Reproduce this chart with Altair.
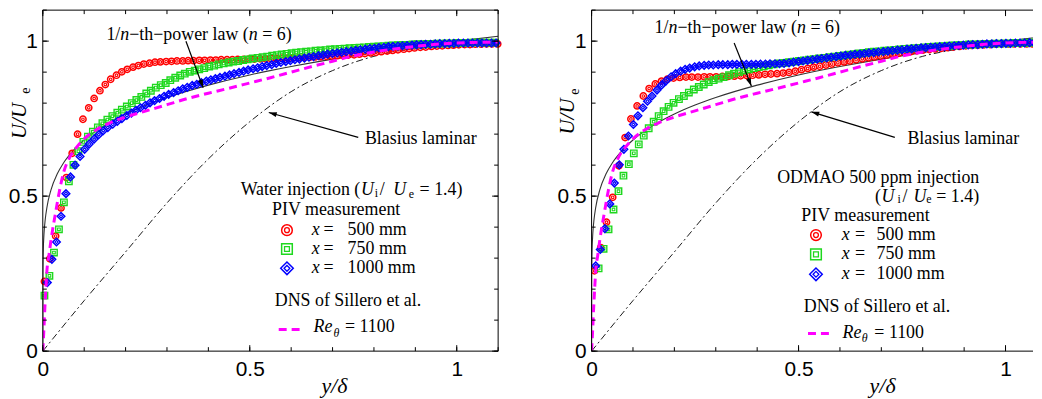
import altair as alt
import pandas as pd

# ---------------- data ----------------
# power law 1/n (n=6)
PL_X = [0, 0.0002, 0.001, 0.003, 0.006, 0.01, 0.02, 0.035, 0.05, 0.075, 0.1, 0.15, 0.2, 0.25, 0.3,
        0.4, 0.5, 0.6, 0.7, 0.8, 0.9, 1.0, 1.1]
PL_Y = [0, 0.242, 0.316, 0.380, 0.426, 0.464, 0.521, 0.572, 0.607, 0.649, 0.681, 0.729, 0.765, 0.794, 0.818,
        0.858, 0.891, 0.918, 0.942, 0.963, 0.983, 1.0, 1.016]
# Blasius laminar
BL_X = [0, 0.1, 0.2, 0.3, 0.4, 0.5, 0.6, 0.7, 0.8, 0.9, 1.0, 1.1]
BL_Y = [0, 0.163, 0.32, 0.478, 0.62, 0.74, 0.837, 0.905, 0.951, 0.977, 0.99, 0.996]
# DNS Sillero et al. Re_theta = 1100
DNS_X = [0, 0.003, 0.005, 0.007, 0.01, 0.015, 0.02, 0.03, 0.04, 0.05, 0.065, 0.08, 0.1, 0.13, 0.16, 0.2,
         0.25, 0.3, 0.35, 0.4, 0.45, 0.5, 0.55, 0.6, 0.65, 0.7, 0.75, 0.8, 0.85, 0.9, 0.95, 1.0, 1.05, 1.1]
DNS_Y = [0, 0.08, 0.14, 0.19, 0.26, 0.31, 0.36, 0.44, 0.515, 0.575, 0.625, 0.655, 0.685, 0.715, 0.735, 0.755,
         0.775, 0.795, 0.815, 0.832, 0.848, 0.865, 0.882, 0.900, 0.918, 0.935, 0.952, 0.965, 0.975, 0.983, 0.99,
         0.994, 0.996, 0.997]

# ---- Water injection panel ----
W_RED_X = [0.004, 0.017, 0.031, 0.044, 0.057, 0.071, 0.084, 0.097, 0.111, 0.124, 0.138, 0.151, 0.164, 0.178,
           0.191, 0.204, 0.218, 0.231, 0.244, 0.258, 0.271, 0.284, 0.298, 0.311, 0.324, 0.338, 0.351, 0.364,
           0.378, 0.391, 0.405, 0.418, 0.431, 0.445, 0.458, 0.471, 0.485, 0.498, 0.511, 0.525, 0.538, 0.551,
           0.565, 0.578, 0.591, 0.605, 0.618, 0.631, 0.645, 0.658, 0.671, 0.685, 0.698, 0.712, 0.725, 0.738,
           0.752, 0.765, 0.778, 0.792, 0.805, 0.818, 0.832, 0.845, 0.858, 0.872, 0.885, 0.898, 0.912, 0.925,
           0.939, 0.952, 0.965, 0.979, 0.992, 1.005, 1.019, 1.032, 1.045, 1.059, 1.072, 1.085, 1.099]
W_RED_Y = [0.225, 0.298, 0.371, 0.462, 0.560, 0.638, 0.700, 0.748, 0.785, 0.815, 0.840, 0.860, 0.877, 0.890,
           0.901, 0.909, 0.916, 0.921, 0.926, 0.929, 0.932, 0.933, 0.934, 0.935, 0.936, 0.936, 0.937, 0.937,
           0.938, 0.938, 0.939, 0.939, 0.940, 0.940, 0.940, 0.941, 0.941, 0.942, 0.942, 0.943, 0.943, 0.944,
           0.944, 0.945, 0.945, 0.946, 0.946, 0.947, 0.948, 0.949, 0.950, 0.951, 0.952, 0.953, 0.954, 0.955,
           0.956, 0.958, 0.960, 0.962, 0.964, 0.966, 0.968, 0.970, 0.972, 0.974, 0.976, 0.978, 0.980, 0.981,
           0.983, 0.984, 0.985, 0.986, 0.987, 0.988, 0.989, 0.989, 0.990, 0.990, 0.991, 0.991, 0.991]
W_GRN_X = [0.004, 0.016, 0.027, 0.039, 0.051, 0.063, 0.074, 0.086, 0.098, 0.109,
           0.121, 0.133, 0.144, 0.156, 0.168, 0.180, 0.191, 0.203, 0.215, 0.226,
           0.238, 0.250, 0.261, 0.273, 0.285, 0.297, 0.308, 0.320, 0.332, 0.343,
           0.355, 0.367, 0.378, 0.390, 0.402, 0.414, 0.425, 0.437, 0.449, 0.460,
           0.472, 0.484, 0.495, 0.507, 0.519, 0.531, 0.542, 0.554, 0.566, 0.577,
           0.589, 0.601, 0.612, 0.624, 0.636, 0.648, 0.659, 0.671, 0.683, 0.694,
           0.706, 0.718, 0.729, 0.741, 0.753, 0.765, 0.776, 0.788, 0.800, 0.811,
           0.823, 0.835, 0.846, 0.858, 0.870, 0.882, 0.893, 0.905, 0.917, 0.928,
           0.940, 0.952, 0.963, 0.975, 0.987, 0.999, 1.010, 1.022, 1.034, 1.045,
           1.057, 1.069, 1.080, 1.092]
W_GRN_Y = [0.179, 0.243, 0.318, 0.393, 0.480, 0.548, 0.601, 0.645, 0.675, 0.692,
           0.708, 0.722, 0.735, 0.747, 0.758, 0.769, 0.779, 0.789, 0.800, 0.810,
           0.820, 0.831, 0.840, 0.850, 0.858, 0.865, 0.874, 0.882, 0.889, 0.895,
           0.901, 0.905, 0.909, 0.913, 0.918, 0.921, 0.925, 0.928, 0.931, 0.934,
           0.936, 0.939, 0.941, 0.944, 0.946, 0.948, 0.950, 0.953, 0.955, 0.957,
           0.959, 0.961, 0.963, 0.964, 0.966, 0.967, 0.969, 0.970, 0.971, 0.973,
           0.974, 0.975, 0.976, 0.977, 0.978, 0.979, 0.980, 0.981, 0.982, 0.983,
           0.984, 0.985, 0.986, 0.987, 0.988, 0.988, 0.989, 0.990, 0.990, 0.991,
           0.991, 0.992, 0.992, 0.993, 0.993, 0.994, 0.994, 0.994, 0.995, 0.995,
           0.995, 0.995, 0.995, 0.995]
W_BLU_X = [0.011, 0.022, 0.033, 0.044, 0.056, 0.067, 0.078, 0.090, 0.101, 0.112,
           0.124, 0.135, 0.146, 0.157, 0.169, 0.180, 0.191, 0.203, 0.214, 0.225,
           0.236, 0.248, 0.259, 0.270, 0.282, 0.293, 0.304, 0.316, 0.327, 0.338,
           0.349, 0.361, 0.372, 0.383, 0.395, 0.406, 0.417, 0.428, 0.440, 0.451,
           0.462, 0.474, 0.485, 0.496, 0.508, 0.519, 0.530, 0.541, 0.553, 0.564,
           0.575, 0.587, 0.598, 0.609, 0.620, 0.632, 0.643, 0.654, 0.666, 0.677,
           0.688, 0.700, 0.711, 0.722, 0.733, 0.745, 0.756, 0.767, 0.779, 0.790,
           0.801, 0.812, 0.824, 0.835, 0.846, 0.858, 0.869, 0.880, 0.892, 0.903,
           0.914, 0.925, 0.937, 0.948, 0.959, 0.971, 0.982, 0.993, 1.004, 1.016,
           1.027, 1.038, 1.050, 1.061, 1.072, 1.084, 1.095]
W_BLU_Y = [0.221, 0.296, 0.352, 0.435, 0.508, 0.562, 0.600, 0.628, 0.651, 0.668,
           0.684, 0.698, 0.711, 0.721, 0.732, 0.741, 0.750, 0.760, 0.768, 0.777,
           0.785, 0.793, 0.801, 0.808, 0.815, 0.822, 0.828, 0.834, 0.840, 0.846,
           0.851, 0.857, 0.861, 0.866, 0.871, 0.875, 0.879, 0.883, 0.887, 0.891,
           0.895, 0.899, 0.903, 0.907, 0.911, 0.914, 0.918, 0.921, 0.924, 0.928,
           0.931, 0.934, 0.937, 0.940, 0.942, 0.945, 0.948, 0.950, 0.953, 0.955,
           0.958, 0.960, 0.962, 0.964, 0.966, 0.968, 0.970, 0.972, 0.974, 0.976,
           0.977, 0.979, 0.980, 0.982, 0.983, 0.984, 0.985, 0.986, 0.987, 0.988,
           0.989, 0.990, 0.990, 0.991, 0.992, 0.992, 0.993, 0.993, 0.994, 0.994,
           0.994, 0.994, 0.994, 0.994, 0.994, 0.994, 0.994]

# ---- ODMAO panel ----
O_RED_X = [0.007, 0.022, 0.036, 0.051, 0.066, 0.081, 0.095, 0.110, 0.125, 0.139,
           0.154, 0.169, 0.183, 0.198, 0.213, 0.228, 0.242, 0.257, 0.272, 0.286,
           0.301, 0.316, 0.330, 0.345, 0.360, 0.375, 0.389, 0.404, 0.419, 0.433,
           0.448, 0.463, 0.477, 0.492, 0.507, 0.522, 0.536, 0.551, 0.566, 0.580,
           0.595, 0.610, 0.624, 0.639, 0.654, 0.669, 0.683, 0.698, 0.713, 0.727,
           0.742, 0.757, 0.771, 0.786, 0.801, 0.816, 0.830, 0.845, 0.860, 0.874,
           0.889, 0.904, 0.918, 0.933, 0.948, 0.963, 0.977, 0.992, 1.007, 1.021,
           1.036, 1.051, 1.065, 1.080, 1.095]
O_RED_Y = [0.259, 0.334, 0.416, 0.496, 0.598, 0.689, 0.749, 0.791, 0.823, 0.847,
           0.862, 0.871, 0.877, 0.881, 0.883, 0.884, 0.884, 0.884, 0.885, 0.885,
           0.885, 0.886, 0.886, 0.887, 0.888, 0.889, 0.890, 0.891, 0.893, 0.894,
           0.895, 0.897, 0.899, 0.903, 0.908, 0.912, 0.916, 0.919, 0.923, 0.926,
           0.930, 0.933, 0.936, 0.940, 0.943, 0.946, 0.949, 0.952, 0.955, 0.958,
           0.961, 0.964, 0.966, 0.969, 0.971, 0.973, 0.975, 0.977, 0.979, 0.981,
           0.983, 0.985, 0.986, 0.987, 0.988, 0.989, 0.990, 0.991, 0.991, 0.991,
           0.991, 0.991, 0.991, 0.991, 0.991]
O_GRN_X = [0.017, 0.029, 0.041, 0.053, 0.065, 0.077, 0.090, 0.102, 0.114, 0.126,
           0.138, 0.150, 0.162, 0.174, 0.186, 0.198, 0.211, 0.223, 0.235, 0.247,
           0.259, 0.271, 0.283, 0.295, 0.307, 0.319, 0.332, 0.344, 0.356, 0.368,
           0.380, 0.392, 0.404, 0.416, 0.428, 0.440, 0.453, 0.465, 0.477, 0.489,
           0.501, 0.513, 0.525, 0.537, 0.549, 0.561, 0.574, 0.586, 0.598, 0.610,
           0.622, 0.634, 0.646, 0.658, 0.670, 0.682, 0.695, 0.707, 0.719, 0.731,
           0.743, 0.755, 0.767, 0.779, 0.791, 0.803, 0.816, 0.828, 0.840, 0.852,
           0.864, 0.876, 0.888, 0.900, 0.912, 0.924, 0.937, 0.949, 0.961, 0.973,
           0.985, 0.997, 1.009, 1.021, 1.033, 1.045, 1.058, 1.070, 1.082, 1.094]
O_GRN_Y = [0.267, 0.330, 0.393, 0.457, 0.516, 0.566, 0.603, 0.638, 0.667, 0.695,
           0.719, 0.740, 0.758, 0.774, 0.788, 0.801, 0.813, 0.823, 0.834, 0.844,
           0.852, 0.860, 0.868, 0.874, 0.879, 0.884, 0.890, 0.895, 0.900, 0.905,
           0.909, 0.913, 0.916, 0.919, 0.922, 0.925, 0.928, 0.930, 0.932, 0.934,
           0.936, 0.938, 0.940, 0.942, 0.944, 0.946, 0.948, 0.950, 0.952, 0.954,
           0.956, 0.958, 0.960, 0.962, 0.964, 0.966, 0.967, 0.969, 0.970, 0.972,
           0.973, 0.975, 0.976, 0.977, 0.978, 0.980, 0.981, 0.982, 0.983, 0.984,
           0.985, 0.986, 0.987, 0.988, 0.989, 0.989, 0.990, 0.991, 0.991, 0.992,
           0.992, 0.993, 0.993, 0.994, 0.994, 0.994, 0.995, 0.995, 0.995, 0.995]
O_BLU_X = [0.010, 0.021, 0.032, 0.044, 0.055, 0.067, 0.078, 0.089, 0.101, 0.112,
           0.124, 0.135, 0.146, 0.158, 0.169, 0.180, 0.192, 0.203, 0.215, 0.226,
           0.237, 0.249, 0.260, 0.272, 0.283, 0.294, 0.306, 0.317, 0.329, 0.340,
           0.351, 0.363, 0.374, 0.386, 0.397, 0.408, 0.420, 0.431, 0.443, 0.454,
           0.465, 0.477, 0.488, 0.500, 0.511, 0.522, 0.534, 0.545, 0.556, 0.568,
           0.579, 0.591, 0.602, 0.613, 0.625, 0.636, 0.648, 0.659, 0.670, 0.682,
           0.693, 0.705, 0.716, 0.727, 0.739, 0.750, 0.762, 0.773, 0.784, 0.796,
           0.807, 0.819, 0.830, 0.841, 0.853, 0.864, 0.876, 0.887, 0.898, 0.910,
           0.921, 0.933, 0.944, 0.955, 0.967, 0.978, 0.990, 1.001, 1.012, 1.024,
           1.035, 1.046, 1.058, 1.069, 1.081, 1.092]
O_BLU_Y = [0.275, 0.328, 0.395, 0.475, 0.542, 0.601, 0.651, 0.694, 0.731, 0.759,
           0.785, 0.806, 0.823, 0.842, 0.858, 0.872, 0.885, 0.895, 0.903, 0.909,
           0.913, 0.917, 0.920, 0.922, 0.923, 0.923, 0.924, 0.924, 0.924, 0.925,
           0.925, 0.925, 0.925, 0.925, 0.925, 0.926, 0.926, 0.927, 0.927, 0.927,
           0.928, 0.930, 0.932, 0.934, 0.936, 0.938, 0.940, 0.942, 0.944, 0.946,
           0.948, 0.950, 0.952, 0.954, 0.955, 0.957, 0.958, 0.960, 0.962, 0.963,
           0.965, 0.966, 0.968, 0.969, 0.971, 0.972, 0.974, 0.975, 0.977, 0.978,
           0.979, 0.980, 0.981, 0.982, 0.983, 0.984, 0.985, 0.986, 0.987, 0.988,
           0.989, 0.989, 0.990, 0.991, 0.991, 0.992, 0.992, 0.993, 0.993, 0.994,
           0.994, 0.994, 0.995, 0.995, 0.995, 0.995]

TICK_MINOR = [0, 0.1, 0.2, 0.3, 0.4, 0.5, 0.6, 0.7, 0.8, 0.9, 1.0, 1.1]
TICK_MAJOR = [0, 0.5, 1.0]
TICK_LABELS = [0, 0.5, 1]
LEGEND_X = ["500 mm", "750 mm", "1000 mm"]

# ---------------- styling ----------------
H = 343
SERIF = "Liberation Serif, Times New Roman, Times, serif"
SANS = "Liberation Sans, Arial, Helvetica, sans-serif"
RED, GRN, BLU, MAG = "#ff0000", "#1ed81e", "#0000ff", "#ff00ff"

ys = alt.Scale(domain=[0, 1.1], nice=False, zero=False)
one = pd.DataFrame({"v": [0]})

_common = dict(values=TICK_LABELS, format="~g", labelFont=SANS, labelFontSize=21,
               labelColor="black", ticks=False, domain=False, grid=False, labelFlush=False,
               labelOverlap=False)
AXX = alt.Axis(labelPadding=8, **_common)
AXY = alt.Axis(labelPadding=5.5, **_common)


def xy(xv, yv):
    pairs = list(zip(xv, yv))
    return pd.DataFrame({"x": [a for a, b in pairs], "y": [b for a, b in pairs]})


def txt(s, x, y, size=18, italic=False, angle=None, align="left"):
    kw = dict(text=s, font=SERIF, fontSize=size, fontStyle="italic" if italic else "normal",
              align=align, baseline="middle", color="black")
    if angle is not None:
        kw["angle"] = angle
    return alt.Chart(one).mark_text(**kw).encode(x=alt.value(x), y=alt.value(y))


def vrule(x1, y1, x2, y2, color="black", sw=1.0, dash=None):
    kw = dict(color=color, strokeWidth=sw)
    if dash:
        kw["strokeDash"] = dash
    return alt.Chart(one).mark_rule(**kw).encode(
        x=alt.value(x1), y=alt.value(y1), x2=alt.value(x2), y2=alt.value(y2))


def sym(shape, color, x, y, so, si, sw=1.5):
    out = []
    for s, w in ((so, sw), (si, 1.3)):
        out.append(alt.Chart(one).mark_point(shape=shape, filled=False, color=color, size=s,
                                             strokeWidth=w, opacity=1)
                   .encode(x=alt.value(x), y=alt.value(y)))
    return out


def arrow(x1, y1, x2, y2, ang):
    head = alt.Chart(one).mark_point(shape="M0,0L0.32,1L-0.32,1Z", filled=True, color="black",
                                     size=256, angle=ang, opacity=1, strokeWidth=0).encode(
        x=alt.value(x2), y=alt.value(y2))
    return [vrule(x1, y1, x2, y2, sw=1.2), head]


def panel(red, grn, blu, P, width, xmax, right_side, clip_pts):
    xs = alt.Scale(domain=[0, xmax], nice=False, zero=False)

    def X(field):
        return alt.X(field, scale=xs, title=None, axis=AXX)

    def Y(field):
        return alt.Y(field, scale=ys, title=None, axis=AXY)

    def line(xv, yv, color, w, dash=None):
        kw = dict(color=color, strokeWidth=w, interpolate="monotone", clip=True)
        if dash:
            kw["strokeDash"] = dash
        return alt.Chart(xy(xv, yv)).mark_line(**kw).encode(x=X("x:Q"), y=Y("y:Q"))

    def markers(xv, yv, shape, color, so, si, sw):
        df = xy(xv, yv)
        out = []
        for s, w in ((so, sw), (si, 1.1)):
            out.append(alt.Chart(df).mark_point(shape=shape, filled=False, color=color, size=s,
                                                strokeWidth=w, opacity=1, clip=clip_pts)
                       .encode(x=X("x:Q"), y=Y("y:Q")))
        return out

    layers = [line(BL_X, BL_Y, "black", 0.9, dash=[7, 3, 2, 3]),
              line(PL_X, PL_Y, "#333333", 1.1)]
    layers += markers(red[0], red[1], "circle", RED, 40, 7, 1.5)
    layers += markers(grn[0], grn[1], "square", GRN, 42, 7, 1.4)
    layers += markers(blu[0], blu[1], "diamond", BLU, 58, 10, 1.5)
    layers.append(line(DNS_X, DNS_Y, MAG, 3, dash=[8, 5]))

    # frame
    layers.append(vrule(0, 0, 0, H))
    layers.append(vrule(0, 0, width, 0))
    layers.append(vrule(0, H, width, H))
    if right_side:
        layers.append(vrule(width, 0, width, H))
    # inward ticks
    for vals, ln in ((TICK_MINOR, 4), (TICK_MAJOR, 6)):
        dx = pd.DataFrame({"t": [t for t in vals if t <= xmax + 1e-9]})
        dy = pd.DataFrame({"t": vals})
        bx = alt.Chart(dx).mark_rule(color="black", strokeWidth=1)
        by = alt.Chart(dy).mark_rule(color="black", strokeWidth=1)
        layers += [bx.encode(x=X("t:Q"), y=alt.value(H), y2=alt.value(H - ln)),
                   bx.encode(x=X("t:Q"), y=alt.value(0), y2=alt.value(ln)),
                   by.encode(y=Y("t:Q"), x=alt.value(0), x2=alt.value(ln))]
        if right_side:
            layers.append(by.encode(y=Y("t:Q"), x=alt.value(width), x2=alt.value(width - ln)))

    for s, x, it in P["pl"]:
        layers.append(txt(s, x, P["pl_y"], italic=it))
    layers += arrow(*P["pl_arrow"])
    layers.append(txt("Blasius laminar", P["bl"][0], P["bl"][1]))
    layers += arrow(*P["bl_arrow"])
    for s, x, y, size, it in P["head"]:
        layers.append(txt(s, x, y, size=size, italic=it))
    sx, rows = P["sym_x"], P["rows"]
    layers += sym("circle", RED, sx, rows[0], 115, 24)
    layers += sym("square", GRN, sx, rows[1], 115, 24)
    layers += sym("diamond", BLU, sx, rows[2], 160, 34)
    for lab, yy in zip(LEGEND_X, rows):
        layers.append(txt("x", P["x_x"], yy, italic=True))
        layers.append(txt("=", P["eq_x"], yy))
        layers.append(txt(lab, P["lab_x"], yy))
    layers.append(txt("DNS of Sillero et al.", P["dns"][0], P["dns"][1]))
    d = P["dash"]
    layers.append(vrule(d[0], d[2], d[1], d[2], color=MAG, sw=3, dash=[8, 5]))
    for s, x, y, size, it in P["re"]:
        layers.append(txt(s, x, y, size=size, italic=it))
    layers.append(txt("U/U", P["yt"][0], P["yt"][1], size=21, italic=True, angle=270, align="center"))
    layers.append(txt("e", P["yt_e"][0], P["yt_e"][1], size=14, angle=270, align="center"))
    layers.append(txt("y/δ", P["xt"][0], P["xt"][1], size=22, italic=True, align="center"))
    return alt.layer(*layers).properties(width=width, height=H)


PL = dict(
    pl=[("1/", 64, False), ("n", 78, True), ("−th−power law (", 87, False), ("n", 207.2, True),
        ("= 6)", 220.7, False)],
    pl_y=24.7,
    pl_arrow=(144, 31.3, 161.3, 78, 159.7),
    bl=(324, 129.7),
    bl_arrow=(317.3, 128, 227.3, 103, 285.5),
    head=[("Water injection (", 199, 181.3, 18, False), ("U", 320, 181.3, 18, True),
          ("i", 334, 184, 12, False), ("/", 339, 181.3, 18, False), ("U", 352.6, 181.3, 18, True),
          ("e", 368, 184.5, 12, False), ("= 1.4)", 379, 181.3, 18, False),
          ("PIV measurement", 230.6, 201.3, 18, False)],
    sym_x=245.6, rows=[221.3, 240.3, 259.7], x_x=270.6, eq_x=282.3, lab_x=306.6,
    dns=(233.3, 293), dash=(237.3, 259, 321.3),
    re=[("Re", 272.3, 319, 18, True), ("θ", 292.3, 324.7, 12, True), ("= 1100", 304, 319, 18, False)],
    yt=(-23.2, 111.5), yt_e=(-16.5, 81), xt=(293.3, 378),
)
PR = dict(
    pl=[("1/", 63.4, False), ("n", 77.4, True), ("−th−power law (", 86.4, False), ("n", 206.6, True),
        ("= 6)", 220.1, False)],
    pl_y=18,
    pl_arrow=(143.4, 33, 160.7, 76.3, 158.2),
    bl=(317.7, 129.7),
    bl_arrow=(305, 128, 221, 102.3, 287),
    head=[("ODMAO 500 ppm injection", 186.7, 168.7, 18, False), ("(", 285, 188, 18, False),
          ("U", 291.7, 188, 18, True), ("i", 307.7, 190, 12, False), ("/", 312.7, 188, 18, False),
          ("U", 323.7, 188, 18, True), ("e", 336.7, 190.5, 12, False), ("= 1.4)", 346.7, 188, 18, False),
          ("PIV measurement", 211, 207.3, 18, False)],
    sym_x=225.7, rows=[226.3, 245.7, 265.7], x_x=251.7, eq_x=265, lab_x=286.7,
    dns=(213.4, 298.7), dash=(217.7, 241.7, 325.3),
    re=[("Re", 252.4, 324.7, 18, True), ("θ", 271.7, 329.7, 12, True), ("= 1100", 284.4, 324.7, 18, False)],
    yt=(-23.2, 107), yt_e=(-16.5, 82), xt=(292.7, 378),
)

WL, WR = 458, 444
left = panel((W_RED_X, W_RED_Y), (W_GRN_X, W_GRN_Y), (W_BLU_X, W_BLU_Y), PL, WL, 1.1, True, False)
right = panel((O_RED_X, O_RED_Y), (O_GRN_X, O_GRN_Y), (O_BLU_X, O_BLU_Y), PR, WR,
              round(1.1 * WR / WL, 4), False, True)

chart = (alt.hconcat(left, right, spacing=53)
         .properties(padding=0)
         .configure_view(stroke="transparent", strokeWidth=0))

chart.save("out.html", embed_options={"renderer": "svg", "actions": False})
